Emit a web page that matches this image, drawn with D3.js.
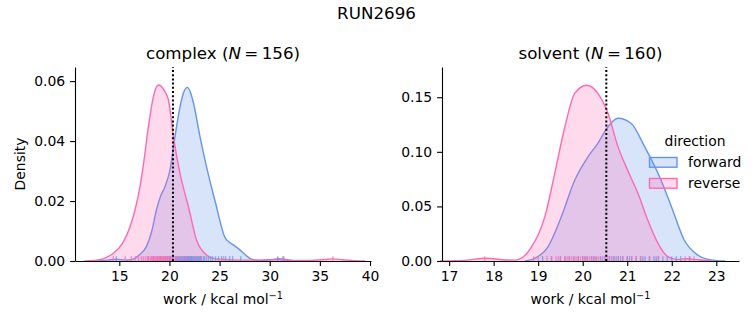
<!DOCTYPE html>
<html>
<head>
<meta charset="utf-8">
<script src="https://cdn.jsdelivr.net/npm/d3@7"></script>
<style>
  body { margin: 0; background: #fff; }
  svg { display: block; font-family: "DejaVu Sans", sans-serif; }
</style>
</head>
<body>
<script>
// density curves, [work, density]
var complexForward = [[12.5, 0], [13.8, 0.0003], [14.7, 0.0006], [15.6, 0.0003], [16.3, 0.0005], [16.9, 0.0018],
  [17.7, 0.0048], [18.2, 0.0095], [18.7, 0.017], [19.1, 0.0215], [19.55, 0.0248], [20.05, 0.0303], [20.55, 0.0414],
  [21.05, 0.0514], [21.45, 0.0565], [21.78, 0.0579], [22.1, 0.0562], [22.4, 0.0526], [23.05, 0.0414], [23.7, 0.0314],
  [24.2, 0.0245], [24.7, 0.018], [25.1, 0.0125], [25.5, 0.0081], [26.0, 0.0062], [26.4, 0.0053], [27.0, 0.0038],
  [27.4, 0.0026], [28.2, 0.0006], [29.0, 0.0002], [30.0, 0.0003], [30.9, 0.0008], [31.7, 0.0004], [32.6, 0]];
var complexReverse = [[11.5, 0], [12.5, 0.0002], [13.5, 0.0009], [14.4, 0.0026], [15.3, 0.0058], [16.07, 0.0114],
  [16.6, 0.0175], [17.06, 0.0248], [17.5, 0.0345], [17.9, 0.0448], [18.4, 0.0548], [18.75, 0.0583], [19.0, 0.0587],
  [19.3, 0.0578], [19.6, 0.0562], [19.9, 0.0537], [20.4, 0.0414], [21.05, 0.0292], [21.9, 0.018], [22.7, 0.007],
  [23.7, 0.002], [24.5, 0.0008], [25.5, 0.0005], [27.0, 0.0003], [29.0, 0.0003], [30.7, 0.0005], [32.0, 0.0002],
  [34.0, 0.0002], [35.5, 0.0005], [36.3, 0.0007], [37.2, 0.0004], [38.5, 0.0001], [39.5, 0]];
var solventForward = [[18.7, 0], [18.9, 0.002], [19.22, 0.013], [19.52, 0.0406], [19.82, 0.074], [20.12, 0.0955],
  [20.34, 0.1078], [20.57, 0.123], [20.79, 0.1307], [21.09, 0.126], [21.39, 0.1047], [21.76, 0.074], [22.02, 0.0467],
  [22.28, 0.0192], [22.58, 0.0055], [22.88, 0.001], [23.2, 0]];
var solventReverse = [[16.8, 0], [17.3, 0.0005], [17.84, 0.0025], [18.2, 0.0012], [18.47, 0.0008], [18.7, 0.005],
  [18.85, 0.013], [19.0, 0.024], [19.15, 0.0406], [19.37, 0.08], [19.6, 0.123], [19.82, 0.1536], [20.09, 0.161],
  [20.34, 0.1536], [20.57, 0.135], [20.79, 0.105], [21.01, 0.083], [21.24, 0.062], [21.46, 0.0375], [21.69, 0.0162],
  [21.91, 0.004], [22.1, 0.0015], [22.35, 0.002], [22.6, 0.0012], [22.9, 0]];

// rug samples (estimated)
var complexForwardRug = [14.7, 17.9, 18.4, 18.8, 19.1, 19.4, 19.6, 19.8, 20.0, 20.1, 20.3, 20.4, 20.6, 20.7, 20.8, 20.9,
  21.0, 21.1, 21.2, 21.3, 21.4, 21.5, 21.55, 21.6, 21.7, 21.8, 21.85, 21.9, 22.0, 22.1, 22.15, 22.2, 22.3, 22.4, 22.5,
  22.6, 22.7, 22.8, 22.9, 23.0, 23.1, 23.2, 23.4, 23.5, 23.7, 23.9, 24.1, 24.3, 24.6, 24.9, 25.2, 25.6, 26.0, 26.3,
  27.1, 30.8, 31.4];
var complexReverseRug = [14.4, 15.6, 16.2, 16.6, 16.9, 17.2, 17.4, 17.6, 17.8, 17.9, 18.1, 18.2, 18.3, 18.4, 18.5, 18.6,
  18.7, 18.8, 18.9, 19.0, 19.05, 19.1, 19.2, 19.3, 19.4, 19.5, 19.6, 19.7, 19.8, 19.9, 20.0, 20.2, 20.4, 20.6, 20.8,
  21.0, 21.3, 21.6, 22.0, 22.5, 23.1, 25.4, 31.3, 36.3];
var solventForwardRug = [19.1, 19.3, 19.5, 19.6, 19.7, 19.8, 19.9, 20.0, 20.05, 20.1, 20.2, 20.25, 20.3, 20.4, 20.45,
  20.5, 20.6, 20.65, 20.7, 20.75, 20.8, 20.85, 20.9, 21.0, 21.05, 21.1, 21.2, 21.3, 21.35, 21.4, 21.5, 21.6, 21.65,
  21.7, 21.8, 21.9, 22.0, 22.1, 22.2, 22.4];
var solventReverseRug = [17.8, 18.9, 19.0, 19.2, 19.3, 19.4, 19.45, 19.5, 19.6, 19.65, 19.7, 19.75, 19.8, 19.85, 19.9,
  19.95, 20.0, 20.05, 20.1, 20.15, 20.2, 20.25, 20.3, 20.35, 20.4, 20.5, 20.55, 20.6, 20.7, 20.8, 20.9, 21.0, 21.1,
  21.2, 21.3, 21.5, 21.7, 22.3, 22.4, 22.5];

var complexXTicks = [15, 20, 25, 30, 35, 40];
var complexYTicks = [0, 0.02, 0.04, 0.06];
var solventXTicks = [17, 18, 19, 20, 21, 22, 23];
var solventYTicks = [0, 0.05, 0.10, 0.15];
var complexMean = 20.35, solventMean = 20.53;
var directions = ["forward", "reverse"];

var width = 753, height = 325;
var blue = "#6495ED", pink = "#FF69B4";
var tickFont = "13.9px", titleFont = "16.7px";

const svg = d3.select("body").append("svg")
    .attr("width", width)
    .attr("height", height);

svg.append("text")
    .attr("x", width / 2)
    .attr("y", 19)
    .attr("text-anchor", "middle")
    .style("font-size", titleFont)
    .text("RUN2696");

function drawPanel(p) {
  var x = d3.scaleLinear().domain(p.xDomain).range([p.left, p.right]);
  var y = d3.scaleLinear().domain(p.yDomain).range([p.bottom, p.top]);

  var area = d3.area()
      .x(d => x(d[0]))
      .y0(y(0))
      .y1(d => y(d[1]))
      .curve(d3.curveMonotoneX);
  var line = d3.line()
      .x(d => x(d[0]))
      .y(d => y(d[1]))
      .curve(d3.curveMonotoneX);

  var series = [[p.forward, blue], [p.reverse, pink]];
  series.forEach(function(s) {
    svg.append("path").datum(s[0])
        .attr("d", area)
        .attr("fill", s[1])
        .attr("fill-opacity", 0.25);
    svg.append("path").datum(s[0])
        .attr("d", line)
        .attr("fill", "none")
        .attr("stroke", s[1])
        .attr("stroke-width", 1.4);
  });

  // rug
  var rugH = (p.bottom - p.top) * 0.025;
  [[p.forwardRug, blue], [p.reverseRug, pink]].forEach(function(r) {
    svg.append("g")
      .selectAll("line")
      .data(r[0])
      .join("line")
        .attr("x1", d => x(d))
        .attr("x2", d => x(d))
        .attr("y1", p.bottom)
        .attr("y2", p.bottom - rugH)
        .attr("stroke", r[1])
        .attr("stroke-opacity", 0.7)
        .attr("stroke-width", 1.4);
  });

  //mean line
  svg.append("line")
      .attr("x1", x(p.mean)).attr("x2", x(p.mean))
      .attr("y1", p.bottom).attr("y2", p.top)
      .attr("stroke", "#000")
      .attr("stroke-width", 2)
      .attr("stroke-dasharray", "2,2.2");

  var xAxis = svg.append("g")
      .attr("transform", `translate(0,${p.bottom})`)
      .call(d3.axisBottom(x).tickValues(p.xTicks).tickFormat(d3.format("d"))
        .tickSize(4.9).tickPadding(4.9).tickSizeOuter(0));
  var yAxis = svg.append("g")
      .attr("transform", `translate(${p.left},0)`)
      .call(d3.axisLeft(y).tickValues(p.yTicks).tickFormat(d3.format(".2f"))
        .tickSize(4.9).tickPadding(4.9).tickSizeOuter(0));
  [xAxis, yAxis].forEach(function(g) {
    g.attr("font-family", null).attr("font-size", null);
    g.selectAll("text").style("font-size", tickFont).attr("fill", "#000");
    g.selectAll("line").attr("stroke-width", 1.1);
    g.select(".domain").attr("stroke-width", 1.1);
  });

  // subplot title
  var t = svg.append("text")
      .attr("x", (p.left + p.right) / 2)
      .attr("y", p.top - 8.3)
      .attr("text-anchor", "middle")
      .style("font-size", titleFont);
  t.append("tspan").text(p.name + " (");
  t.append("tspan").style("font-style", "italic").text("N");
  t.append("tspan").text("\u2009=\u2009" + p.n + ")");

  // x label
  var xl = svg.append("text")
      .attr("x", (p.left + p.right) / 2)
      .attr("y", 304)
      .attr("text-anchor", "middle")
      .style("font-size", tickFont);
  xl.append("tspan").text("work / kcal mol");
  xl.append("tspan").attr("dy", -5.5).style("font-size", "9.7px").text("\u22121");

  if (p.ylabel) {
    svg.append("text")
        .attr("transform", `translate(25,${(p.top + p.bottom) / 2}) rotate(-90)`)
        .attr("text-anchor", "middle")
        .style("font-size", tickFont)
        .text(p.ylabel);
  }
}

drawPanel({
  left: 75, right: 371, top: 67, bottom: 261,
  xDomain: [10.58, 40.1], yDomain: [0, 0.0647],
  xTicks: complexXTicks, yTicks: complexYTicks,
  forward: complexForward, reverse: complexReverse,
  forwardRug: complexForwardRug, reverseRug: complexReverseRug,
  mean: complexMean, name: "complex", n: 156, ylabel: "Density"
});
drawPanel({
  left: 442, right: 739, top: 67, bottom: 261,
  xDomain: [16.84, 23.51], yDomain: [0, 0.1777],
  xTicks: solventXTicks, yTicks: solventYTicks,
  forward: solventForward, reverse: solventReverse,
  forwardRug: solventForwardRug, reverseRug: solventReverseRug,
  mean: solventMean, name: "solvent", n: 160, ylabel: null
});

// legend
var legend = svg.append("g");
legend.append("text")
    .attr("x", 695)
    .attr("y", 146)
    .attr("text-anchor", "middle")
    .style("font-size", tickFont)
    .text("direction");
legend.selectAll("rect")
  .data(directions)
  .join("rect")
    .attr("x", 649.5)
    .attr("y", (d, i) => 157.5 + i * 21)
    .attr("width", 27.5)
    .attr("height", 9.7)
    .attr("fill", d => d === "forward" ? blue : pink)
    .attr("fill-opacity", 0.25)
    .attr("stroke", d => d === "forward" ? blue : pink)
    .attr("stroke-width", 1.4);
legend.selectAll(".label")
  .data(directions)
  .join("text")
    .attr("class", "label")
    .attr("x", 688)
    .attr("y", (d, i) => 166.8 + i * 21)
    .style("font-size", tickFont)
    .text(d => d);
</script>
</body>
</html>
